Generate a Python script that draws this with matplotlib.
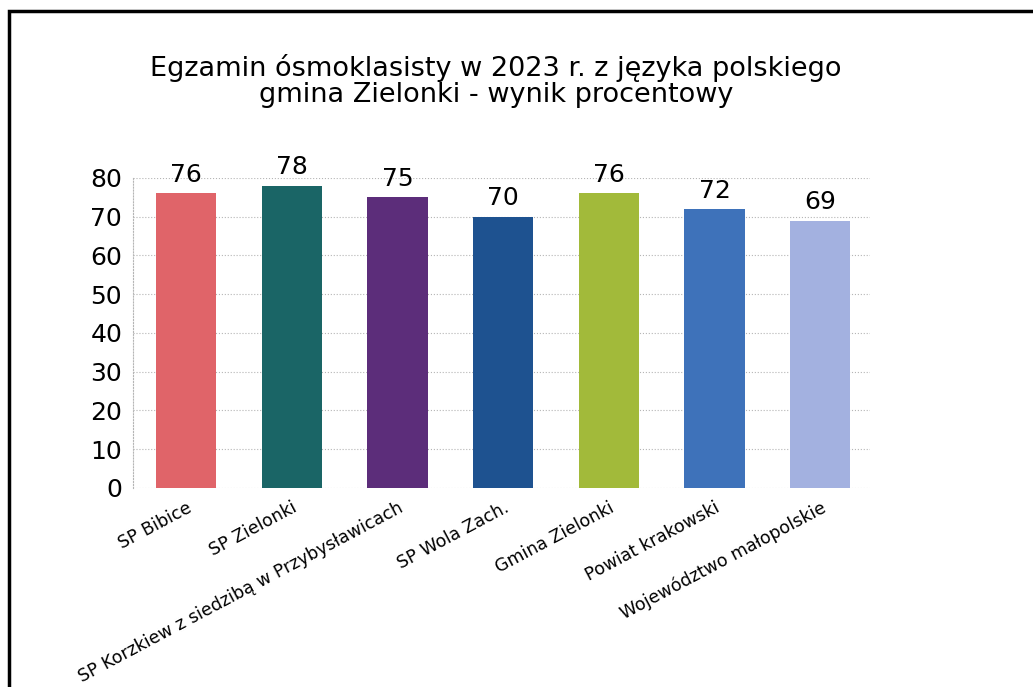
import matplotlib.pyplot as plt
from matplotlib.patches import Rectangle

categories = ['SP Bibice', 'SP Zielonki', 'SP Korzkiew z siedzibą w Przybysławicach',
              'SP Wola Zach.', 'Gmina Zielonki', 'Powiat krakowski', 'Województwo małopolskie']
values = [76, 78, 75, 70, 76, 72, 69]
colors = ['#E06469', '#1A6566', '#5C2D7A', '#1E5290', '#A2BA3A', '#3E72BA', '#A3B1E0']
yticks = [0, 10, 20, 30, 40, 50, 60, 70, 80]
title1 = 'Egzamin ósmoklasisty w 2023 r. z języka polskiego'
title2 = 'gmina Zielonki - wynik procentowy'

plt.rcParams['font.family'] = ['DejaVu Sans']

fig = plt.figure(figsize=(10.33, 6.87), dpi=100)
ax = fig.add_axes([0.129, 0.290, 0.713, 0.451])

x = range(len(categories))
ax.bar(x, values, width=0.57, color=colors, zorder=2)
for i, v in enumerate(values):
    ax.text(i, v + 2.9, str(v), ha='center', va='baseline', fontsize=18)

ax.set_ylim(0, 80)
ax.set_xlim(-0.5, 6.47)
ax.set_yticks(yticks)
ax.tick_params(axis='y', labelsize=18, length=0, pad=8)
ax.tick_params(axis='x', length=0, pad=8)
ax.set_xticks(list(x))
ax.set_xticklabels(categories, rotation=28, ha='right', rotation_mode='anchor',
                   fontsize=12.5)
ax.grid(axis='y', linestyle=':', color='#b5b5b5', linewidth=0.8, zorder=0)
for s in ax.spines.values():
    s.set_visible(False)
ax.spines['left'].set_visible(True)
ax.spines['left'].set_linestyle(':')
ax.spines['left'].set_color('#b5b5b5')
ax.spines['left'].set_linewidth(0.8)

fig.text(0.48, 1 - 76 / 687, title1, ha='center', va='baseline', fontsize=19.5)
fig.text(0.48, 1 - 102 / 687, title2, ha='center', va='baseline', fontsize=19.5)

# frame of the scanned page
fig.patches.append(Rectangle((0.009, -0.05), 1.1, 1.034, transform=fig.transFigure,
                             fill=False, edgecolor='black', linewidth=2.5))

fig.savefig('out.png', dpi=100)
